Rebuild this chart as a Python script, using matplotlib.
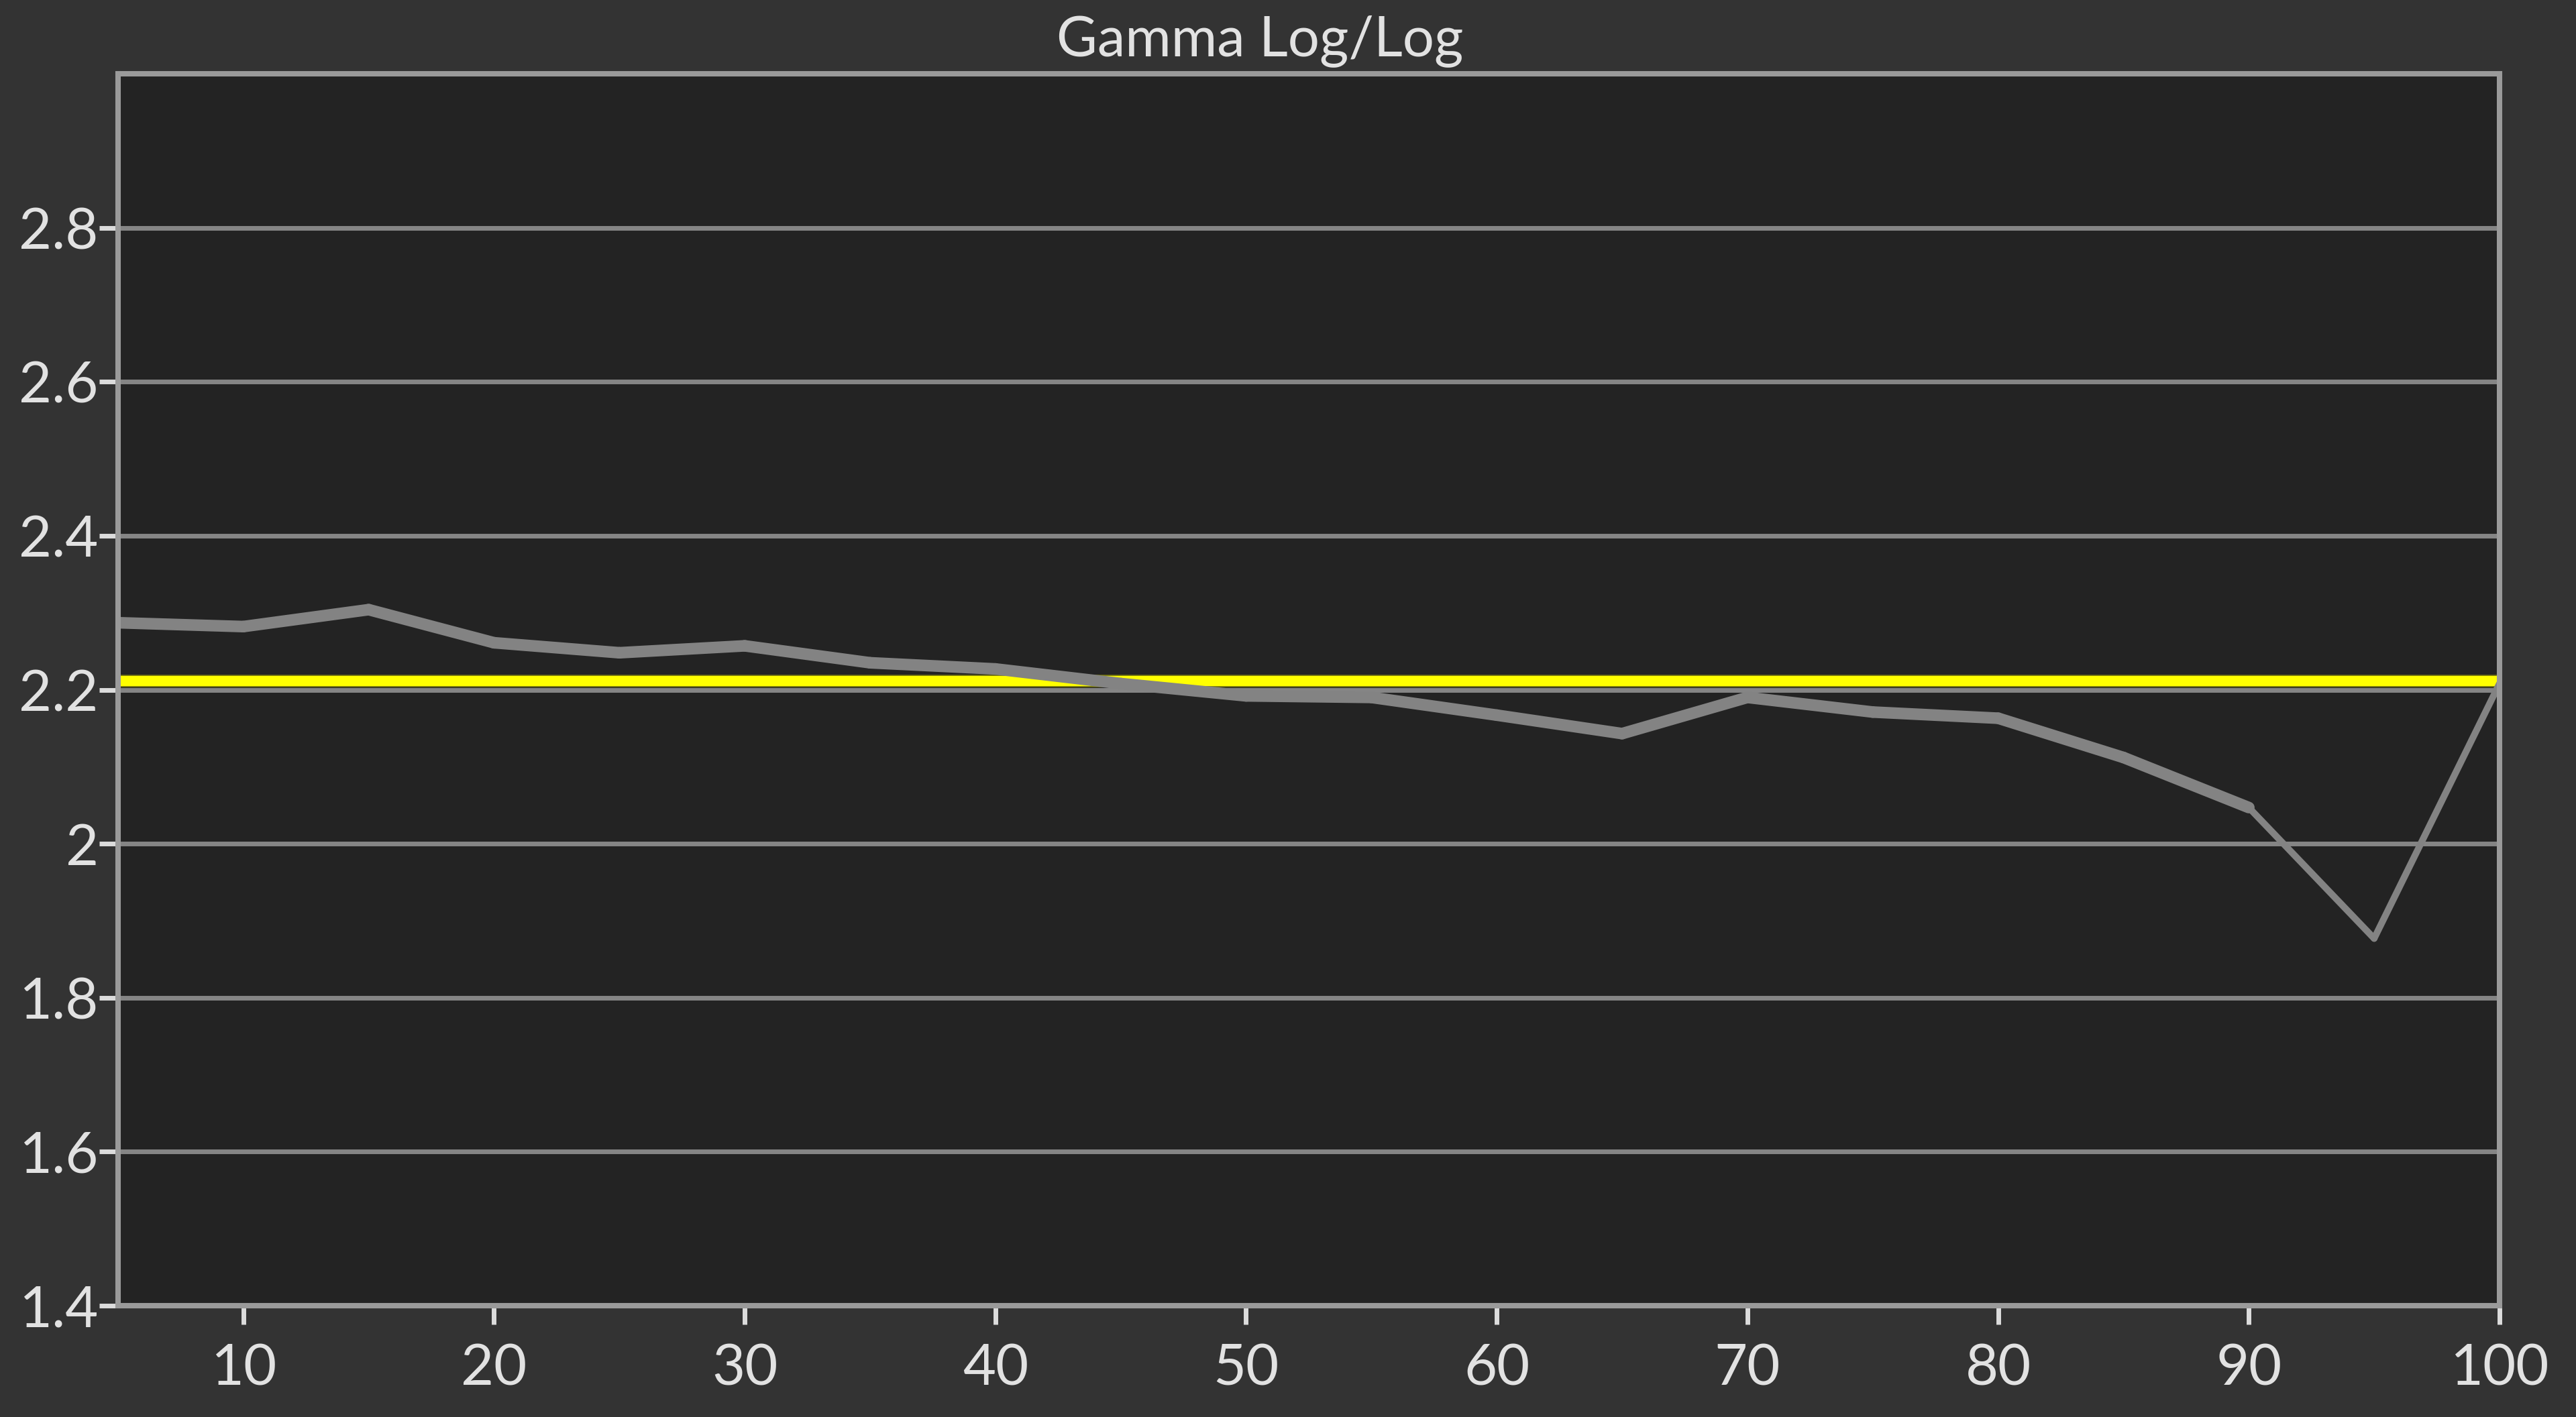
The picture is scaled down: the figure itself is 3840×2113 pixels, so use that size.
import matplotlib.pyplot as plt
from matplotlib.collections import LineCollection
from matplotlib.ticker import FuncFormatter
import matplotlib.patheffects as pe
import numpy as np

# Data
stimulus = [5, 10, 15, 20, 25, 30, 35, 40, 45, 50, 55, 60, 65, 70, 75, 80, 85, 90, 95, 100]
gamma = [2.287, 2.282, 2.304, 2.261, 2.248, 2.257, 2.235, 2.227, 2.208, 2.192,
         2.190, 2.167, 2.143, 2.190, 2.171, 2.163, 2.112, 2.047, 1.877, 2.208]
target_gamma = 2.212
x_ticks = [10, 20, 30, 40, 50, 60, 70, 80, 90, 100]
y_ticks = [1.4, 1.6, 1.8, 2.0, 2.2, 2.4, 2.6, 2.8]

plt.rcParams['font.family'] = ['Lato', 'DejaVu Sans']
txt = '#e2e2e2'

fig = plt.figure(figsize=(38.4, 21.13), dpi=100, facecolor='#333333')
ax = fig.add_axes([0.0458, 0.0785, 0.9245, 0.8695])
ax.set_facecolor('#232323')

ax.set_xlim(5, 100)
ax.set_ylim(1.4, 3.0)

# Grid
for v in y_ticks:
    ax.axhline(v, color='#858585', lw=5, zorder=1)

# Target line
ax.axhline(target_gamma, color='#ffff00', lw=11, zorder=2,
           path_effects=[pe.Stroke(linewidth=13.5, foreground='#6e6e10'), pe.Normal()])

# Measured gamma: thick until 90, thinner afterwards
pts = np.column_stack([stimulus, gamma])
segs = np.stack([pts[:-1], pts[1:]], axis=1)
widths = [12.5 if stimulus[i] < 90 else 7.2 for i in range(len(segs))]
lc = LineCollection(segs, colors='#838383', linewidths=widths, zorder=3,
                    capstyle='round', joinstyle='round')
ax.add_collection(lc)

for s in ax.spines.values():
    s.set_color('#9a9a9a')
    s.set_linewidth(5.8)
    s.set_zorder(4)

ax.set_xticks(x_ticks)
ax.set_yticks(y_ticks)
ax.yaxis.set_major_formatter(FuncFormatter(lambda v, p: f'{v:g}'))
ax.tick_params(axis='both', colors='#dcdcdc', labelcolor=txt, labelsize=61,
               length=20, width=5)
ax.tick_params(axis='x', pad=20)
ax.tick_params(axis='y', pad=1)

fig.text(0.489, 0.971, 'Gamma Log/Log', color=txt, fontsize=60,
         ha='center', va='center')

fig.savefig('out.png', dpi=100, facecolor=fig.get_facecolor())
